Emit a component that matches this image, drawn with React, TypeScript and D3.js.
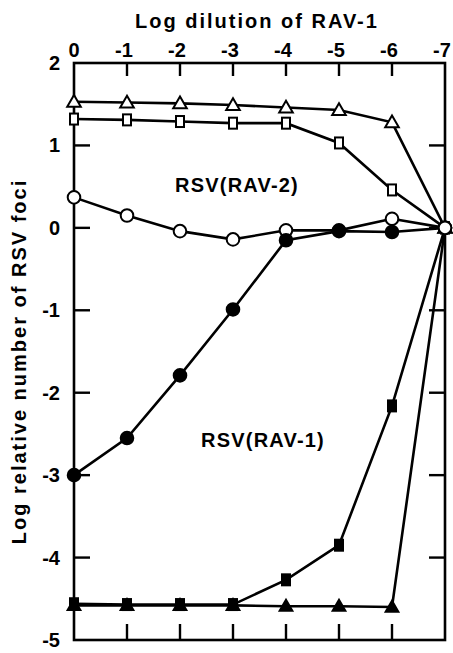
import React from 'react';
import * as d3 from 'd3';

const dilutions = [0, -1, -2, -3, -4, -5, -6, -7];
const yTicks = [2, 1, 0, -1, -2, -3, -4, -5];
const xTickLabels = ['0', '-1', '-2', '-3', '-4', '-5', '-6', '-7'];
const yTickLabels = ['2', '1', '0', '-1', '-2', '-3', '-4', '-5'];

// RSV(RAV-2) group (open symbols)
const openTriangle = [1.53, 1.52, 1.51, 1.49, 1.46, 1.43, 1.28, 0];
const openSquare = [1.32, 1.31, 1.29, 1.27, 1.27, 1.03, 0.46, 0];
const openCircle = [0.37, 0.15, -0.04, -0.14, -0.03, -0.03, 0.11, 0];
// RSV(RAV-1) group (filled symbols)
const filledCircle = [-3.0, -2.55, -1.79, -0.99, -0.15, -0.04, -0.05, 0];
const filledSquare = [-4.56, -4.57, -4.57, -4.57, -4.27, -3.85, -2.16, 0];
const filledTriangle = [-4.58, -4.58, -4.58, -4.58, -4.59, -4.59, -4.6, 0];

const FONT = '"Liberation Sans", Arial, sans-serif';

const x = d3.scaleLinear().domain([0, -7]).range([74, 445]);
const y = d3.scaleLinear().domain([-5, 2]).range([640, 63]);

type Shape = 'circle' | 'square' | 'triangle';

const Marker = ({ cx, cy, shape, filled }: { cx: number; cy: number; shape: Shape; filled: boolean }) => {
  const fill = filled ? '#000' : '#fff';
  if (shape === 'circle') return <circle cx={cx} cy={cy} r={6.3} fill={fill} stroke="#000" strokeWidth={2} />;
  if (shape === 'square') return <rect x={cx - 4} y={cy - 5.5} width={8} height={11} fill={fill} stroke="#000" strokeWidth={2} />;
  const tri = d3.symbol().type(d3.symbolTriangle).size(filled ? 70 : 80)();
  return <path d={tri as string} transform={`translate(${cx},${cy + 1})`} fill={fill} stroke="#000" strokeWidth={2} />;
};

const line = d3
  .line<number>()
  .x((_, i) => x(dilutions[i]))
  .y((d) => y(d));

const Series = ({ values, shape, filled }: { values: number[]; shape: Shape; filled: boolean }) => (
  <g>
    <path d={line(values) as string} fill="none" stroke="#000" strokeWidth={2.6} />
    {values.map((v, i) => (
      <Marker key={i} cx={x(dilutions[i])} cy={y(v)} shape={shape} filled={filled} />
    ))}
  </g>
);

export default function App() {
  const [x0, x1] = x.range();
  const [yb, yt] = y.range();
  return (
    <svg width={453} height={653} style={{ position: 'absolute', left: 0, top: 0, background: '#fff' }}>
      <rect width={453} height={653} fill="#fff" />
      {/* frame */}
      <rect x={x0} y={yt} width={x1 - x0} height={yb - yt} fill="none" stroke="#000" strokeWidth={2.6} />
      {/* top / bottom ticks + top labels */}
      {dilutions.map((d, i) => (
        <g key={'tx' + i}>
          {i > 0 && i < dilutions.length - 1 && (
            <>
              <line x1={x(d)} x2={x(d)} y1={yt} y2={yt + 13} stroke="#000" strokeWidth={2.4} />
              <line x1={x(d)} x2={x(d)} y1={yb} y2={yb - 16} stroke="#000" strokeWidth={2.4} />
            </>
          )}
          <text x={x(d) - (i === 0 ? 0 : 3)} y={57} textAnchor="middle" fontFamily={FONT} fontWeight="bold" fontSize={20}>
            {xTickLabels[i]}
          </text>
        </g>
      ))}
      {/* left / right ticks + left labels */}
      {yTicks.map((t, i) => (
        <g key={'ty' + i}>
          {i > 0 && i < yTicks.length - 1 && (
            <>
              <line x1={x0} x2={x0 + 16} y1={y(t)} y2={y(t)} stroke="#000" strokeWidth={2.4} />
              <line x1={x1} x2={x1 - 16} y1={y(t)} y2={y(t)} stroke="#000" strokeWidth={2.4} />
            </>
          )}
          <text x={60} y={y(t) + 7} textAnchor="end" fontFamily={FONT} fontWeight="bold" fontSize={20}>
            {yTickLabels[i]}
          </text>
        </g>
      ))}
      <text x={257} y={28} textAnchor="middle" fontFamily={FONT} fontWeight="bold" fontSize={20} letterSpacing={2}>
        Log dilution of RAV-1
      </text>
      <text
        transform={`translate(26,${(yt + yb) / 2 + 10}) rotate(-90)`}
        textAnchor="middle"
        fontFamily={FONT}
        fontWeight="bold"
        fontSize={20}
        letterSpacing={2}
      >
        Log relative number of RSV foci
      </text>
      <text x={237} y={192} textAnchor="middle" fontFamily={FONT} fontWeight="bold" fontSize={20} letterSpacing={1.2}>
        RSV(RAV-2)
      </text>
      <text x={263} y={447} textAnchor="middle" fontFamily={FONT} fontWeight="bold" fontSize={20} letterSpacing={1.2}>
        RSV(RAV-1)
      </text>
      <Series values={openTriangle} shape="triangle" filled={false} />
      <Series values={openSquare} shape="square" filled={false} />
      <Series values={openCircle} shape="circle" filled={false} />
      <Series values={filledTriangle} shape="triangle" filled />
      <Series values={filledSquare} shape="square" filled />
      <Series values={filledCircle} shape="circle" filled />
      <Marker cx={x(-7)} cy={y(0)} shape="circle" filled={false} />
    </svg>
  );
}
